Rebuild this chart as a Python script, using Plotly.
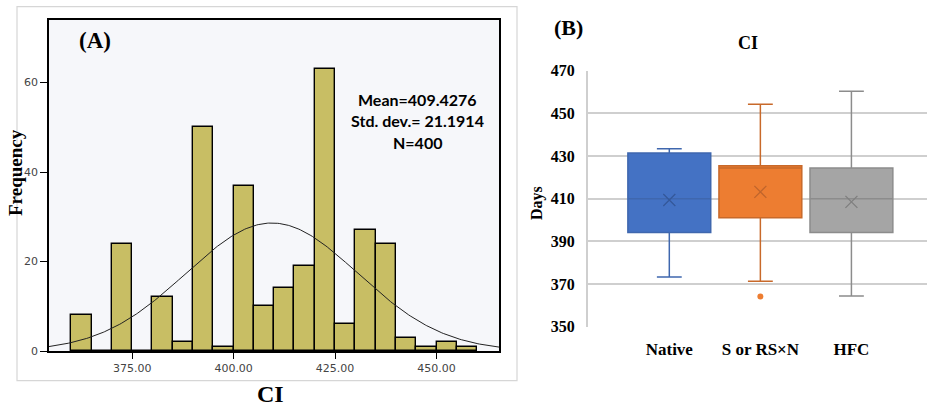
import numpy as np
import plotly.graph_objects as go

# ---------------- Data ----------------
# Panel A: histogram of CI (bin start, width 5)
bin_starts = [360, 365, 370, 375, 380, 385, 390, 395, 400, 405,
              410, 415, 420, 425, 430, 435, 440, 445, 450, 455]
bin_counts = [8, 0, 24, 0, 12, 2, 50, 1, 37, 10,
              14, 19, 63, 6, 27, 24, 3, 1, 2, 1]
bin_width = 5
ci_mean = 409.4276
ci_sd = 21.1914
ci_n = 400
hist_xticks = [375, 400, 425, 450]
hist_yticks = [0, 20, 40, 60]

# Panel B: box plots
groups = ["Native", "S or RS×N", "HFC"]
q1 = [394.1, 401.1, 394.1]
median = [410.0, 424.4, 410.0]
q3 = [431.4, 425.5, 424.4]
lower_whisker = [373.3, 371.3, 364.4]
upper_whisker = [433.4, 454.3, 460.4]
means = [409.4, 413.2, 408.5]
outlier_group = [1]
outlier_value = [364.2]
box_yticks = [350, 370, 390, 410, 430, 450, 470]

fill_colors = ["#4472C4", "#ED7D31", "#A5A5A5"]
line_colors = ["#3F67AE", "#C8692A", "#8C8C8C"]
mean_colors = ["#34589A", "#C0652C", "#7F7F7F"]

# ---------------- Geometry (pixels -> paper) ----------------
W, H = 927, 409
def px(x):
    return x / W
def py(y):
    return 1 - y / H

fig = go.Figure()

# Histogram bars
centers = [b + bin_width / 2 for b in bin_starts]
fig.add_trace(go.Bar(
    x=centers, y=bin_counts, width=bin_width,
    marker=dict(color="#C8BE64", line=dict(color="black", width=1.4)),
    xaxis="x", yaxis="y", showlegend=False, hoverinfo="x+y"))

# Normal curve from stated mean / sd, scaled to the histogram total
xs = np.linspace(354.5, 465.4, 300)
scale = sum(bin_counts) * bin_width
ys = scale * np.exp(-0.5 * ((xs - ci_mean) / ci_sd) ** 2) / (ci_sd * np.sqrt(2 * np.pi))
fig.add_trace(go.Scatter(x=xs, y=ys, mode="lines",
                         line=dict(color="#222222", width=1),
                         xaxis="x", yaxis="y", showlegend=False, hoverinfo="skip"))

# Box plots
for i, g in enumerate(groups):
    fig.add_trace(go.Box(
        x=[i], q1=[q1[i]], median=[median[i]], q3=[q3[i]],
        lowerfence=[lower_whisker[i]], upperfence=[upper_whisker[i]],
        width=0.91, whiskerwidth=0.3,
        fillcolor=fill_colors[i],
        line=dict(color=line_colors[i], width=1.5),
        xaxis="x2", yaxis="y2", showlegend=False, name=g))
    fig.add_trace(go.Scatter(
        x=[i], y=[means[i]], mode="markers",
        marker=dict(symbol="x-thin", size=12,
                    line=dict(color=mean_colors[i], width=1.3)),
        xaxis="x2", yaxis="y2", showlegend=False, hoverinfo="y"))

fig.add_trace(go.Scatter(
    x=outlier_group, y=outlier_value, mode="markers",
    marker=dict(color="#ED7D31", size=6),
    xaxis="x2", yaxis="y2", showlegend=False, hoverinfo="y"))

serif = "Liberation Serif"

fig.update_layout(
    width=W, height=H,
    margin=dict(l=0, r=0, t=0, b=0, pad=0, autoexpand=False),
    paper_bgcolor="white", plot_bgcolor="white",
    bargap=0,
    xaxis=dict(domain=[px(49), px(499)], range=[354.5, 465.4],
               tickvals=hist_xticks, tickformat=".2f",
               ticks="outside", ticklen=6, tickcolor="black",
               showline=True, linecolor="black", linewidth=1.5, mirror=True,
               showgrid=False, zeroline=False, automargin=False,
               tickfont=dict(family="DejaVu Sans", size=11, color="#444444"),
               anchor="y"),
    yaxis=dict(domain=[py(351), py(20)], range=[0, 74],
               tickvals=hist_yticks,
               ticks="outside", ticklen=7, tickcolor="black",
               showline=True, linecolor="black", linewidth=1.5, mirror=True,
               showgrid=False, zeroline=False, automargin=False,
               tickfont=dict(family="DejaVu Sans", size=11, color="#444444"),
               anchor="x"),
    xaxis2=dict(domain=[px(588), 1.0], range=[-0.893, 2.83],
                tickvals=[0, 1, 2], ticktext=[f"<b>{g}</b>" for g in groups],
                ticks="", showline=False, showgrid=False, zeroline=False,
                ticklabelstandoff=10, automargin=False,
                tickfont=dict(family=serif, size=17, color="black"),
                anchor="y2"),
    yaxis2=dict(domain=[py(326.7), py(70.7)], range=[350, 470],
                tickvals=box_yticks, ticktext=[f"<b>{v}</b>" for v in box_yticks],
                showgrid=True, gridcolor="#CFCFCF", gridwidth=2,
                showline=True, linecolor="#CFCFCF", linewidth=2,
                zeroline=False, ticks="", ticklabelstandoff=8, automargin=False,
                tickfont=dict(family=serif, size=16, color="black"),
                anchor="x2"),
    shapes=[
        dict(type="rect", xref="paper", yref="paper",
             x0=px(17), x1=px(517), y0=py(380.7), y1=py(6.7),
             line=dict(color="#D6D6D6", width=1.2), fillcolor="rgba(0,0,0,0)",
             layer="below"),
        dict(type="rect", xref="x domain", yref="y domain",
             x0=0, x1=1, y0=0, y1=1, line=dict(width=0),
             fillcolor="#F6F7FA", layer="below"),
    ],
    annotations=[
        dict(text="<b>(A)</b>", xref="paper", yref="paper", x=px(95), y=py(41),
             showarrow=False, font=dict(family=serif, size=23, color="black"),
             xanchor="center", yanchor="middle"),
        dict(text="<b>Frequency</b>", xref="paper", yref="paper", x=px(15), y=py(173),
             showarrow=False, textangle=-90,
             font=dict(family=serif, size=19, color="black"),
             xanchor="center", yanchor="middle"),
        dict(text="<b>CI</b>", xref="paper", yref="paper", x=px(270), y=py(394),
             showarrow=False, font=dict(family=serif, size=24, color="black"),
             xanchor="center", yanchor="middle"),
        dict(text=f"<b>Mean={ci_mean}</b>", xref="paper", yref="paper",
             x=px(417), y=py(99.5), showarrow=False,
             font=dict(family="Lato", size=16, color="black"),
             xanchor="center", yanchor="middle"),
        dict(text=f"<b>Std. dev.= {ci_sd}</b>", xref="paper", yref="paper",
             x=px(417), y=py(121), showarrow=False,
             font=dict(family="Lato", size=16, color="black"),
             xanchor="center", yanchor="middle"),
        dict(text=f"<b>N={ci_n}</b>", xref="paper", yref="paper",
             x=px(417), y=py(142.5), showarrow=False,
             font=dict(family="Lato", size=16, color="black"),
             xanchor="center", yanchor="middle"),
        dict(text="<b>(B)</b>", xref="paper", yref="paper", x=px(568), y=py(28),
             showarrow=False, font=dict(family=serif, size=22, color="black"),
             xanchor="center", yanchor="middle"),
        dict(text="<b>CI</b>", xref="paper", yref="paper", x=px(748), y=py(43),
             showarrow=False, font=dict(family=serif, size=18, color="black"),
             xanchor="center", yanchor="middle"),
        dict(text="<b>Days</b>", xref="paper", yref="paper", x=px(537), y=py(203),
             showarrow=False, textangle=-90,
             font=dict(family=serif, size=16, color="black"),
             xanchor="center", yanchor="middle"),
    ],
)

fig.write_html("out.html",
               config={"displayModeBar": False},
               post_script="document.body.style.margin='0';document.body.style.overflow='hidden';")
